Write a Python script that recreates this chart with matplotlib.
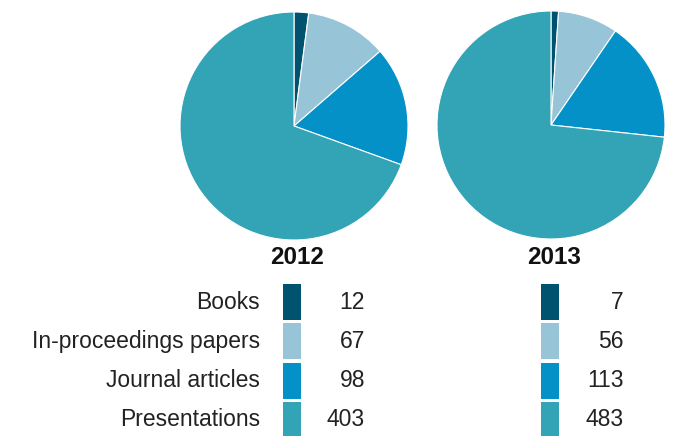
import matplotlib.pyplot as plt

categories = ["Books", "In-proceedings papers", "Journal articles", "Presentations"]
values_2012 = [12, 67, 98, 403]
values_2013 = [7, 56, 113, 483]
years = ["2012", "2013"]
colors = ["#00536f", "#97c4d7", "#0391c8", "#33a3b6"]

W, H = 674, 436
fig = plt.figure(figsize=(W / 100, H / 100), dpi=100, facecolor="white")

family = "Liberation Sans"


def px_axes(cx, cy, r):
    # axes box in figure fractions from pixel centre / radius
    return fig.add_axes([(cx - r) / W, (H - cy - r) / H, 2 * r / W, 2 * r / H])


pie_spots = [(294, 126, 114), (551, 125, 114)]
for (cx, cy, r), vals, year in zip(pie_spots, [values_2012, values_2013], years):
    ax = px_axes(cx, cy, r)
    ax.pie(vals, colors=colors, startangle=90, counterclock=False,
           wedgeprops=dict(edgecolor="white", linewidth=0.8))
    ax.set_xlim(-1, 1)
    ax.set_ylim(-1, 1)
    ax.set_aspect("equal")
    ax.axis("off")
    fig.text((cx + 3) / W, 1 - 257 / H, year, ha="center", va="center",
             fontsize=17.5, fontweight="bold", family=family, color="#111111")

# legend table drawn in pixel coordinates
lg = fig.add_axes([0, 0, 1, 1])
lg.set_xlim(0, W)
lg.set_ylim(H, 0)
lg.axis("off")

row_y = [302 + 39.3 * i for i in range(len(categories))]
lg.barh(row_y, 18, left=283, height=36, color=colors)
lg.barh(row_y, 18, left=541, height=36, color=colors)
txt = dict(va="center", ha="right", fontsize=16.5, family=family, color="#222222")
for y, cat, v12, v13 in zip(row_y, categories, values_2012, values_2013):
    lg.text(260, y, cat, **txt)
    lg.text(365, y, str(v12), **txt)
    lg.text(624, y, str(v13), **txt)

fig.savefig("out.png", dpi=100, facecolor="white")
